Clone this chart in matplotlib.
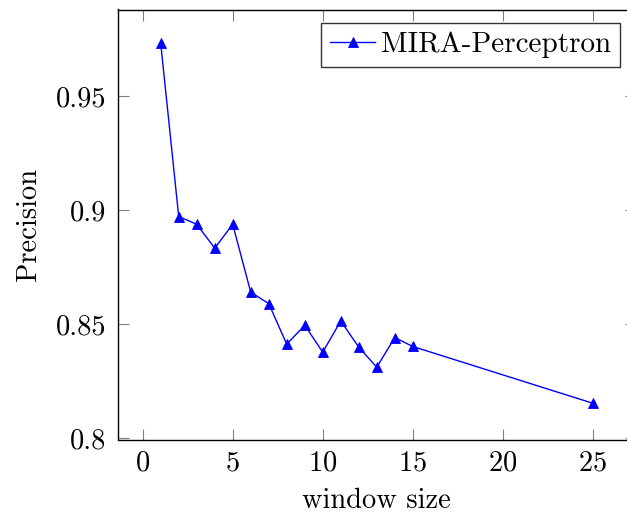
import matplotlib
matplotlib.use("Agg")
import matplotlib.pyplot as plt

# Precision versus window size
window_size = [1, 2, 3, 4, 5, 6, 7, 8, 9, 10, 11, 12, 13, 14, 15, 25]
precision = [0.9731, 0.8971, 0.8937, 0.8832, 0.8937, 0.8639, 0.8589, 0.8411,
             0.8494, 0.8376, 0.8513, 0.8398, 0.8310, 0.8440, 0.8401, 0.8152]
x_ticks = [0, 5, 10, 15, 20, 25]
y_ticks = [0.80, 0.85, 0.90, 0.95]
y_tick_labels = ["0.8", "0.85", "0.9", "0.95"]
series_name = "MIRA-Perceptron"

plt.rcParams["font.family"] = ["cmr10", "DejaVu Serif"]
plt.rcParams["axes.formatter.use_mathtext"] = True

W, H, DPI = 627, 516, 100
fig = plt.figure(figsize=(W / DPI, H / DPI), dpi=DPI)
left, right, top, bottom = 117.5, 636.0, 9.5, 439.5
ax = fig.add_axes([left / W, 1 - bottom / H, (right - left) / W, (bottom - top) / H])

ax.plot(window_size, precision, color="#0000ff", lw=1.0, marker="^",
        markersize=7, markeredgewidth=0.6, label=series_name, clip_on=False)

ax.set_xlim(-1.4, 27.4)
ax.set_ylim(0.7993, 0.9879)
ax.set_xticks(x_ticks)
ax.set_yticks(y_ticks)
ax.set_yticklabels(y_tick_labels)
ax.tick_params(direction="in", length=8, width=0.8, color="#808080",
               top=True, right=True, labelsize=20.5, pad=8)
for s in ax.spines.values():
    s.set_linewidth(1.0)
    s.set_color("black")

ax.set_xlabel("window size", fontsize=20.5, labelpad=8)
ax.set_ylabel("Precision", fontsize=20.5, labelpad=10)

leg = ax.legend(loc="upper right",
                bbox_to_anchor=((620 - left) / (right - left), 1 - (22.7 - top) / (bottom - top)),
                fontsize=21, frameon=True, fancybox=False, handlelength=1.55,
                handletextpad=0.2, borderpad=0.3, borderaxespad=0)
leg.get_frame().set_edgecolor("black")
leg.get_frame().set_linewidth(1.0)

fig.savefig("out.png", dpi=DPI)
